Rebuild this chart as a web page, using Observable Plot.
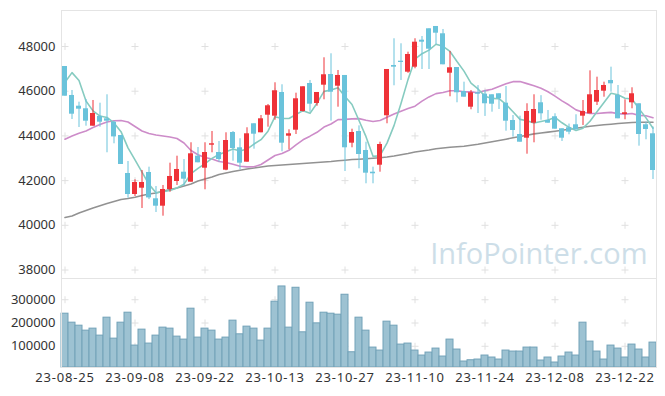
<!DOCTYPE html>
<html><head><meta charset="utf-8">
<script src="https://cdn.jsdelivr.net/npm/d3@7"></script>
<script src="https://cdn.jsdelivr.net/npm/@observablehq/plot@0.6"></script>
<style>
body{margin:0;background:#fff;}
#chart svg{display:block;}
</style></head><body><div id="chart"></div>
<script>
// Daily candles, 23-08-25 .. 23-12-29 (85 trading days)
const openP = [47105,45808,45329,45213,44434,44868,44765,44613,44018,42318,
  41378,41660,42363,41186,40855,41602,41960,42376,41929,43092,
  42555,43584,43257,42466,44152,43468,42824,44542,44139,44926,
  44882,45942,43987,44255,45092,46345,45450,46269,46747,46224,
  46703,43674,44197,43347,42376,42689,44900,47150,47342,46850,
  47074,48282,48792,48895,48568,46805,47060,45987,45284,45929,
  45866,45839,45884,45463,44689,44063,43897,44568,45481,44689,
  44855,44318,44363,44497,44882,44989,45508,46000,46479,45808,
  44958,45481,45436,44497,44094];
const highP = [47105,46031,45508,45629,45584,45463,45839,44650,44018,42855,
  42036,42452,42600,41736,41781,42779,43092,42944,43692,43481,
  43692,44197,43750,44139,44197,43871,44363,44542,44913,45405,
  46376,46287,44273,45911,46197,46479,45942,47494,47673,46926,
  46703,44300,44450,43718,42600,43718,46971,48345,48121,47745,
  48345,48447,48792,48895,48761,47776,47060,46403,46031,46250,
  46031,45839,45884,46210,44913,44882,45437,45839,45800,45137,
  44990,44318,44530,44944,45584,46910,46627,46403,47074,46255,
  45615,46152,45436,44613,44400];
const lowP = [45776,44734,44376,44434,44434,44390,43244,43647,42721,41213,
  41289,40752,41150,40573,40408,41481,41781,41750,41929,42797,
  41589,43244,42824,42440,42868,42484,42824,43405,44139,44390,
  44703,43289,43378,44063,45060,45061,45329,45615,44658,45284,
  42407,43468,42528,41857,41857,42376,44542,46242,46479,46800,
  47002,46971,46970,48090,47181,45750,45481,45732,45168,45000,
  44870,45061,45182,44210,43942,43718,43181,43691,44700,44568,
  44300,43750,44050,44273,44466,44989,45360,45732,45955,44765,
  44721,45213,43540,43826,42050];
const closeP = [45776,44971,45195,44658,45002,44613,44658,43955,42721,41378,
  41915,41915,41226,40855,41602,42184,42497,42063,43199,42797,
  43257,43647,42944,43794,43437,42779,44094,44076,44765,45347,
  46018,43674,44094,45660,46197,45418,45942,46734,45955,46703,
  43468,44152,43168,42332,42305,43615,46971,47074,47284,47642,
  48192,48192,47879,48595,47181,47047,45929,45732,45929,45866,
  45437,45418,45660,44658,44242,43718,45092,45181,44989,44568,
  44300,43897,44166,44273,45092,45839,46031,46255,46331,44765,
  45034,45884,44063,44287,42452];
const volume = [240000,201400,188500,167200,175800,145800,222900,132800,201400,244300,
  103000,171500,111600,145800,180100,175800,141500,128700,261500,137300,
  175800,167200,128700,137300,210100,151400,184400,175800,124400,175800,
  291500,357000,180100,351400,160000,287200,198500,244300,240000,235800,
  321400,74300,222900,167200,94400,81600,205800,188500,107300,111600,
  81600,60200,73000,90100,55900,128700,85900,34500,40000,43000,
  60200,51600,43000,81600,77300,77300,94400,94400,38800,51600,
  30200,55900,73000,60200,201400,120100,77300,43000,103000,90100,
  51600,107300,85900,51600,115800];
// moving-average values before enough in-window closes exist
const ma5Head = [46400,46830,46480,45560];
const ma20Head = [43853,43996,44121,44220,44376,44510,44622,44675,44689,44622,
  44421,44220,44108,44041,43996,43951,43884,43683,43347];
// long moving average (grey)
const maLong = [40350,40417,40551,40663,40774,40873,40976,41065,41155,41200,
  41253,41334,41401,41446,41522,41602,41669,41759,41848,41982,
  42072,42161,42273,42340,42408,42466,42519,42564,42609,42654,
  42676,42698,42721,42743,42765,42788,42810,42833,42855,42886,
  42913,42944,42958,42976,43003,43025,43056,43101,43155,43213,
  43280,43325,43369,43428,43459,43490,43517,43540,43580,43624,
  43683,43741,43794,43853,43915,43974,44027,44090,44130,44170,
  44211,44251,44296,44340,44385,44430,44466,44497,44524,44555,
  44577,44600,44609,44613,44613];
const tickIdx = [0,10,20,30,40,50,60,70,80];
const tickLabels = ["23-08-25","23-09-08","23-09-22","23-10-13","23-10-27","23-11-10","23-11-24","23-12-08","23-12-22"];
const priceTicks = [38000,40000,42000,44000,46000,48000];
const volTicks = [100000,200000,300000];

const RED = "#ee3238", BLUE = "#6ac3db";
const rows = closeP.map((c, i) => ({i, o: openP[i], h: highP[i], l: lowP[i], c, v: volume[i],
  col: c >= openP[i] ? RED : BLUE}));
function movingAvg(win, head) {
  return closeP.map((c, i) => i < head.length ? head[i] : d3.mean(closeP.slice(i - win + 1, i + 1)));
}
const ma5 = movingAvg(5, ma5Head).map((v, i) => ({i, v}));
const ma20 = movingAvg(20, ma20Head).map((v, i) => ({i, v}));
const maL = maLong.map((v, i) => ({i, v}));
const xDomain = rows.map(d => d.i);
const priceGrid = tickIdx.flatMap(x => priceTicks.map(y => ({x, y})));
const volGrid = tickIdx.flatMap(x => volTicks.map(y => ({x, y})));
const fontFamily = "'Noto Sans', 'Open Sans', sans-serif";
const VOL_MIN = 8800;

const price = Plot.plot({
  width: 665, height: 278, marginLeft: 61, marginRight: 9, marginTop: 10, marginBottom: 0,
  style: {fontFamily, fontSize: "13px", color: "#333", background: "#fff"},
  x: {type: "band", domain: xDomain, padding: 0, axis: null},
  y: {domain: [37620, 49610], ticks: priceTicks, tickSize: 0, tickPadding: 6, tickFormat: d => String(d), label: null},
  marks: [
    Plot.dot(priceGrid, {x: "x", y: "y", symbol: "plus", r: 2.4, stroke: "#e0e0e0", strokeWidth: 1}),
    Plot.text(["InfoPointer.com"], {text: d => d, frameAnchor: "bottom-right", textAnchor: "end", lineAnchor: "bottom",
      dx: -9, dy: -15, fontSize: 29, fill: "#cddee8", fontFamily: "'Open Sans', sans-serif"}),
    Plot.frame({stroke: "#e4e4e4"}),
    Plot.lineY(maL, {x: "i", y: "v", stroke: "#929292", strokeWidth: 1.6}),
    Plot.lineY(ma20, {x: "i", y: "v", stroke: "#cd8cc9", strokeWidth: 1.6}),
    Plot.lineY(ma5, {x: "i", y: "v", stroke: "#86cbc0", strokeWidth: 1.6}),
    Plot.ruleX(rows, {x: "i", y1: "l", y2: "h", stroke: "col", strokeWidth: 1}),
    Plot.barY(rows, {x: "i", y1: "o", y2: "c", fill: "col", insetLeft: 1, insetRight: 1})
  ]
});

const vol = Plot.plot({
  width: 665, height: 118, marginLeft: 61, marginRight: 9, marginTop: 0, marginBottom: 29,
  style: {fontFamily, fontSize: "13px", color: "#333", background: "#fff"},
  x: {type: "band", domain: xDomain, padding: 0, ticks: tickIdx,
      tickFormat: i => tickLabels[tickIdx.indexOf(i)], tickSize: 0, tickPadding: 5, label: null},
  y: {domain: [VOL_MIN, 391200], ticks: volTicks, tickSize: 0, tickPadding: 6, tickFormat: d => String(d), label: null},
  marks: [
    Plot.dot(volGrid, {x: "x", y: "y", symbol: "plus", r: 2.4, stroke: "#e0e0e0", strokeWidth: 1}),
    Plot.barY(rows, {x: "i", y1: VOL_MIN, y2: "v", fill: "#9dc2d2", stroke: "#72a2b8", strokeWidth: 1, insetLeft: 0, insetRight: 0}),
    Plot.frame({stroke: "#e4e4e4"})
  ]
});

// widen the date labels slightly, as in the reference
d3.select(vol).selectAll('[aria-label="x-axis tick label"] text').attr("letter-spacing", "0.8px");

document.getElementById("chart").append(price, vol);
</script></body></html>
